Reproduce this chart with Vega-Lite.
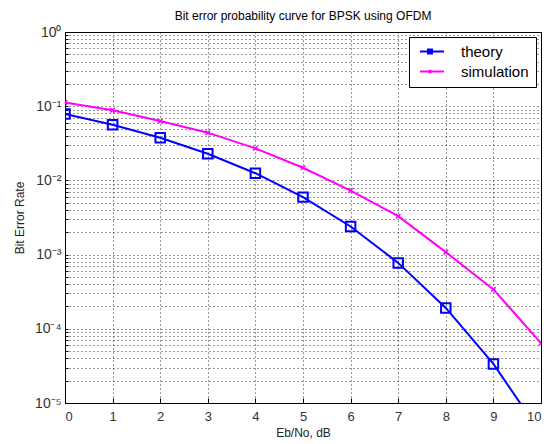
{
  "$schema": "https://vega.github.io/schema/vega-lite/v6.json",
  "width": 476,
  "height": 371,
  "autosize": "none",
  "padding": {"left": 65, "top": 32, "right": 11, "bottom": 41},
  "background": "white",
  "title": {"text": "Bit error probability curve for BPSK using OFDM", "font": "Liberation Sans", "fontSize": 12, "fontWeight": "normal", "color": "#000", "offset": 2},
  "config": {
    "view": {"stroke": "#000", "strokeWidth": 1},
    "axis": {"labelFont": "Liberation Sans", "titleFont": "Liberation Sans", "labelFontSize": 13, "titleFontSize": 12, "titleFontWeight": "normal", "labelColor": "#333", "titleColor": "#222", "domainColor": "#000", "tickColor": "#000"}
  },
  "data": {"values": [
    {"ebno": 0, "ber": 0.0786, "series": "theory"},
    {"ebno": 1, "ber": 0.0563, "series": "theory"},
    {"ebno": 2, "ber": 0.0375, "series": "theory"},
    {"ebno": 3, "ber": 0.0229, "series": "theory"},
    {"ebno": 4, "ber": 0.0125, "series": "theory"},
    {"ebno": 5, "ber": 0.00595, "series": "theory"},
    {"ebno": 6, "ber": 0.00239, "series": "theory"},
    {"ebno": 7, "ber": 0.000773, "series": "theory"},
    {"ebno": 8, "ber": 0.000191, "series": "theory"},
    {"ebno": 9, "ber": 0.0000336, "series": "theory"},
    {"ebno": 10, "ber": 0.00000387, "series": "theory"},
    {"ebno": 0, "ber": 0.112, "series": "simulation"},
    {"ebno": 1, "ber": 0.088, "series": "simulation"},
    {"ebno": 2, "ber": 0.063, "series": "simulation"},
    {"ebno": 3, "ber": 0.044, "series": "simulation"},
    {"ebno": 4, "ber": 0.027, "series": "simulation"},
    {"ebno": 5, "ber": 0.0148, "series": "simulation"},
    {"ebno": 6, "ber": 0.0073, "series": "simulation"},
    {"ebno": 7, "ber": 0.0033, "series": "simulation"},
    {"ebno": 8, "ber": 0.00108, "series": "simulation"},
    {"ebno": 9, "ber": 0.00034, "series": "simulation"},
    {"ebno": 10, "ber": 0.000064, "series": "simulation"}
  ]},
  "encoding": {
    "x": {"field": "ebno", "type": "quantitative", "scale": {"domain": [0, 10], "nice": false},
      "axis": {"title": "Eb/No, dB", "values": [0,1,2,3,4,5,6,7,8,9,10], "grid": true, "gridDash": [1, 3], "gridColor": "#000", "gridOpacity": 0.8, "tickSize": -5, "labelPadding": 12, "titlePadding": 4}},
    "y": {"field": "ber", "type": "quantitative", "scale": {"type": "log", "domain": [0.00001, 1], "nice": false},
      "axis": {"title": "Bit Error Rate", "titlePadding": 8,
        "values": [0.00001,0.00002,0.00003,0.00004,0.00005,0.00006,0.00007,0.00008,0.00009,0.0001,0.0002,0.0003,0.0004,0.0005,0.0006,0.0007,0.0008,0.0009,0.001,0.002,0.003,0.004,0.005,0.006,0.007,0.008,0.009,0.01,0.02,0.03,0.04,0.05,0.06,0.07,0.08,0.09,0.1,0.2,0.3,0.4,0.5,0.6,0.7,0.8,0.9,1],
        "labelExpr": "datum.value > 0.99 ? '10⁰' : abs(datum.value - 0.1) < 1e-9 ? '10⁻¹' : abs(datum.value - 0.01) < 1e-10 ? '10⁻²' : abs(datum.value - 0.001) < 1e-11 ? '10⁻³' : abs(datum.value - 0.0001) < 1e-12 ? '10⁻⁴' : abs(datum.value - 0.00001) < 1e-13 ? '10⁻⁵' : ''",
        "labelOverlap": false, "labelFontSize": 14,
        "grid": true, "gridDash": [1, 3], "gridColor": "#000", "gridOpacity": 0.8, "tickSize": -3, "labelPadding": 7}},
    "color": {"field": "series", "type": "nominal",
      "scale": {"domain": ["theory", "simulation"], "range": ["#0000ff", "#ff00ff"]},
      "legend": {"title": null, "orient": "top-right", "offset": 5, "fillColor": "white", "strokeColor": "#000", "padding": 7,
        "labelFont": "Liberation Sans", "labelFontSize": 15, "labelColor": "#000", "rowPadding": 4, "labelOffset": 30,
        "symbolSize": 100, "symbolStrokeWidth": 2, "symbolFillColor": "transparent", "symbolOffset": 0,
        "encode": {"symbols": {"update": {"shape": {"signal": "datum.value === 'theory' ? 'M-0.7,0H4.1M0.9,-0.4H1.7V0.4H0.9Z' : 'M-0.7,0H4.1M1.02,-0.28L1.58,0.28M1.02,0.28L1.58,-0.28'"}}}}}}
  },
  "layer": [
    {"mark": {"type": "line", "strokeWidth": 2, "clip": true}},
    {"transform": [{"filter": "datum.series === 'theory'"}],
     "mark": {"type": "point", "shape": "square", "filled": false, "size": 90, "strokeWidth": 2, "opacity": 1, "clip": true}},
    {"transform": [{"filter": "datum.series === 'simulation'"}],
     "mark": {"type": "point", "shape": "M-1,-1L1,1M-1,1L1,-1", "filled": false, "size": 20, "strokeWidth": 1.5, "opacity": 1, "clip": true}}
  ]
}
